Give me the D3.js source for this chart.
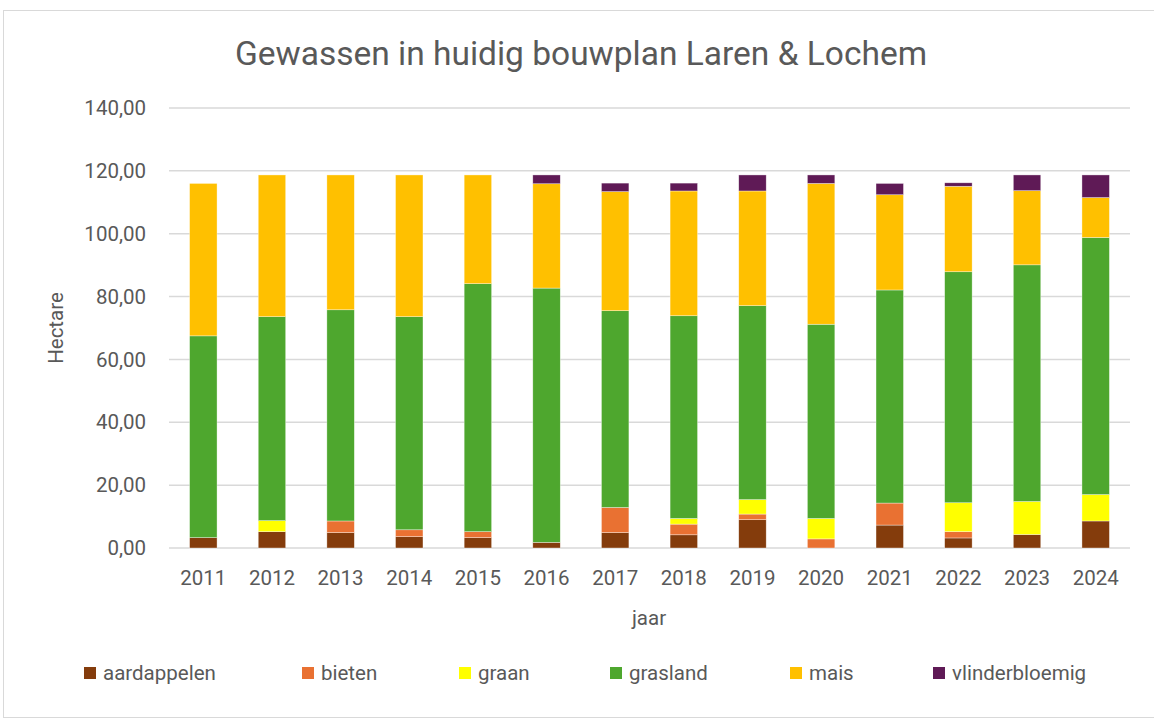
<!DOCTYPE html>
<html><head><meta charset="utf-8">
<script src="https://cdn.jsdelivr.net/npm/d3@7"></script>
<style>body{margin:0;background:#fff;} svg{display:block;}</style>
</head><body>
<svg id="c" width="1154" height="720"></svg>
<script>
const years = ["2011","2012","2013","2014","2015","2016","2017","2018","2019","2020","2021","2022","2023","2024"];
const seriesNames = ["aardappelen","bieten","graan","grasland","mais","vlinderbloemig"];
const colors = ["#843C0C","#E97132","#FFFF00","#4EA72E","#FFC000","#5F1A56"];
const aardappelen =    [3.3,5.2,4.9,3.6,3.3,1.8,4.9,4.2,9.0,0,7.3,3.2,4.3,8.6];
const bieten =         [0,0,3.7,2.2,1.9,0,8.0,3.4,1.8,2.9,7.0,2.0,0,0];
const graan =          [0,3.5,0,0,0,0,0,1.8,4.6,6.5,0,9.2,10.5,8.4];
const grasland =       [64.2,64.9,67.2,67.8,78.9,80.9,62.6,64.5,61.7,61.8,67.8,73.5,75.3,81.8];
const mais =           [48.5,45.1,42.9,45.1,34.6,33.2,37.9,39.7,36.5,44.8,30.3,27.2,23.6,12.7];
const vlinderbloemig = [0,0,0,0,0,2.8,2.7,2.5,5.1,2.7,3.6,1.1,5.0,7.2];
const yTicks = [0,20,40,60,80,100,120,140];

(function(){
const seriesVals = [aardappelen,bieten,graan,grasland,mais,vlinderbloemig];
const rows = years.map((y,i)=>{const o={year:y}; seriesNames.forEach((s,j)=>o[s]=seriesVals[j][i]); return o;});
const stack = d3.stack().keys(seriesNames)(rows);

const svg = d3.select("#c");
const font = "Roboto, 'Noto Sans', sans-serif";
const fs = 20.5;
svg.append("rect").attr("x",3.5).attr("y",10.5).attr("width",1200).attr("height",707)
  .attr("fill","#fff").attr("stroke","#D9D9D9").attr("stroke-width",1);

const pl=169, pr=1130, pt=108, pb=548;
const x = d3.scaleBand().domain(years).range([pl,pr]).paddingInner(0.6).paddingOuter(0.3);
const y = d3.scaleLinear().domain([0,140]).range([pb,pt]);

svg.append("g").selectAll("line").data(yTicks).join("line")
  .attr("x1",pl).attr("x2",pr).attr("y1",d=>y(d)).attr("y2",d=>y(d))
  .attr("stroke","#D9D9D9").attr("stroke-width",1.5);

svg.append("g").selectAll("text").data(yTicks).join("text")
  .attr("x",146).attr("y",d=>y(d)).attr("dy","0.35em").attr("text-anchor","end")
  .attr("font-family",font).attr("font-size",fs).attr("fill","#595959")
  .text(d=>d3.format(".2f")(d).replace(".",","));

svg.append("g").selectAll("g").data(stack).join("g")
  .attr("fill",(d,i)=>colors[i])
  .selectAll("rect").data(d=>d).join("rect")
  .attr("x",d=>x(d.data.year)).attr("width",x.bandwidth())
  .attr("y",d=>y(d[1])).attr("height",d=>Math.max(0,y(d[0])-y(d[1])))
  .attr("stroke","#fff").attr("stroke-width",0.6).attr("stroke-opacity",0.6);

svg.append("g").selectAll("text").data(years).join("text")
  .attr("x",d=>x(d)+x.bandwidth()/2).attr("y",578).attr("dy","0.35em").attr("text-anchor","middle")
  .attr("font-family",font).attr("font-size",fs).attr("fill","#595959").text(d=>d);

svg.append("text").attr("x",649).attr("y",618).attr("dy","0.35em").attr("text-anchor","middle")
  .attr("font-family",font).attr("font-size",fs).attr("fill","#595959").text("jaar");
svg.append("text").attr("transform","translate(56,328) rotate(-90)").attr("dy","0.35em").attr("text-anchor","middle")
  .attr("font-family",font).attr("font-size",fs).attr("fill","#595959").text("Hectare");

svg.append("text").attr("x",581).attr("y",53).attr("dy","0.35em").attr("text-anchor","middle")
  .attr("font-family",font).attr("font-size",33.5).attr("fill","#595959").text("Gewassen in huidig bouwplan Laren & Lochem");

const legX = [84,302,459,610,790,933];
const lg = svg.append("g").selectAll("g").data(seriesNames).join("g")
  .attr("transform",(d,i)=>`translate(${legX[i]},673)`);
lg.append("rect").attr("x",0).attr("y",-6).attr("width",12).attr("height",12).attr("fill",(d,i)=>colors[i]);
lg.append("text").attr("x",19).attr("y",0).attr("dy","0.35em")
  .attr("font-family",font).attr("font-size",fs).attr("fill","#595959").text(d=>d);
})();
</script>
</body></html>
